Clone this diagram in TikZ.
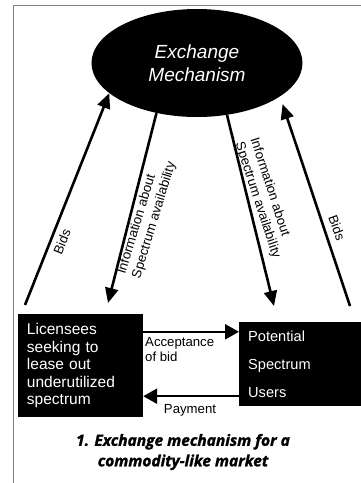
\documentclass[tikz,border=0pt]{standalone}
\usepackage{fontspec}
\setmainfont{Liberation Sans}
\newfontfamily\capfont[BoldItalicFeatures={FakeBold=1.6}]{Open Sans}
\usepackage{tikz}
\usetikzlibrary{arrows.meta, positioning, shapes.geometric}

\definecolor{framegray}{RGB}{128,128,128}

\begin{document}
\begin{tikzpicture}[x=1pt, y=-1pt,
  hub node/.style={draw=none, ellipse, fill=black, text=white, inner sep=0pt,
    minimum width=211pt, minimum height=108pt, align=center,
    font=\fontsize{19}{23}\selectfont\itshape},
  party node/.style={fill=black, text=white, inner xsep=9pt, align=left},
  flow arrow/.style={line width=2.6pt, -{Triangle[length=15pt, width=13pt]}},
  trade arrow/.style={line width=2.4pt, -{Triangle[length=14pt, width=15pt]}},
  flow label/.style={inner sep=0pt, font=\fontsize{13.2}{15.5}\selectfont}
]
  \useasboundingbox (0,0) rectangle (361,483);

  % page frame
  \draw[framegray, line width=1pt] (13,483) -- (13,5) -- (361,5);

  \node[hub node] (ex) at (197,63) {Exchange\\Mechanism};

  \node[party node, minimum width=125pt, minimum height=103pt, text width=107pt,
    font=\fontsize{15.5}{17.5}\selectfont] (lic) at (80.5,365.5)
    {Licensees\\seeking to\\lease out\\underutilized\\spectrum};
  \node[party node, minimum width=126pt, minimum height=84pt, text width=108pt,
    font=\fontsize{14.6}{28}\selectfont, anchor=west] (pot) at (239,364)
    {Potential\\Spectrum\\Users};

  % ends of the long arrows
  \coordinate (bidsLfoot) at (25,305);
  \coordinate (infoLtip) at (108,303);
  \coordinate (infoRtip) at (274,306);
  \coordinate (bidsRfoot) at (350,306);

  \draw[flow arrow] (bidsLfoot) -- (ex.199);
  \draw[flow arrow] (ex.231) -- (infoLtip);
  \draw[flow arrow] (ex.300) -- (infoRtip);
  \draw[flow arrow, shorten >=8pt] (bidsRfoot) -- (ex.338.5);

  \node[flow label, rotate=68] (bidsL) at (62,242) {Bids};
  \node[flow label, rotate=73, align=left] (infoL) at (147,218)
    {Information about\\Spectrum availability};
  \node[flow label, rotate=-72, align=left] (infoR) at (265,198)
    {Information about\\Spectrum availability};
  \node[flow label, rotate=-70] (bidsR) at (337,228) {Bids};

  % trade between the two parties
  \coordinate (accL) at ([yshift=-18pt]lic.north east);
  \coordinate (payL) at ([yshift=21pt]lic.south east);
  \draw[trade arrow] (accL) -- (accL -| pot.west);
  \draw[trade arrow] (payL -| pot.west) -- (payL);

  \node[flow label, align=left, anchor=north west] (acc) at (145,337)
    {Acceptance\\of bid};
  \node[flow label, anchor=base] (pay) at (190,413) {Payment};

  \node[align=center, font=\capfont\bfseries\itshape\fontsize{15.5}{20.5}\selectfont]
    (cap) at (183,452) {1. Exchange mechanism for a\\commodity-like market};
\end{tikzpicture}
\end{document}
